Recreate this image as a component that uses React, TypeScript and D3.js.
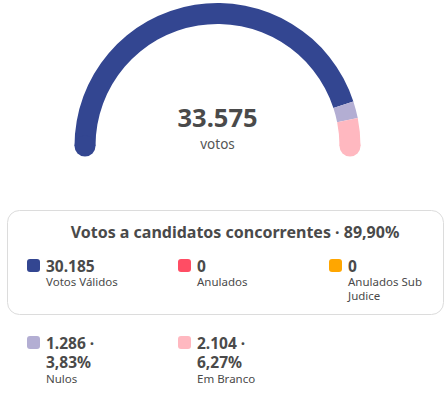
import { useEffect, useRef } from 'react'
import * as d3 from 'd3'

// gauge segments (left to right)
const gaugeNames = ['Votos Válidos', 'Nulos', 'Em Branco']
const gaugeValues = [30185, 1286, 2104]
const gaugeColors = ['#334691', '#b3aed3', '#ffb8c0']

const totalLabel = '33.575'
const totalUnit = 'votos'

const boxTitle = 'Votos a candidatos concorrentes · 89,90%'
const boxValues = ['30.185', '0', '0']
const boxLabels = [['Votos Válidos'], ['Anulados'], ['Anulados Sub', 'Judice']]
const boxColors = ['#334691', '#ff4d64', '#ffa600']

const outValues = [['1.286 ·', '3,83%'], ['2.104 ·', '6,27%']]
const outLabels = ['Nulos', 'Em Branco']
const outColors = ['#b3aed3', '#ffb8c0']

const FONT = "'Noto Sans', 'Open Sans', sans-serif"

export default function App() {
	const ref = useRef<SVGSVGElement>(null)

	useEffect(() => {
		const svg = d3.select(ref.current)
		svg.selectAll('*').remove()

		const cx = 217.5, cy = 146, rOut = 143, rIn = 122
		const angle = d3.scaleLinear()
			.domain([0, d3.sum(gaugeValues)])
			.range([-Math.PI / 2, Math.PI / 2])

		const pie = d3.pie<number>().sort(null)
			.startAngle(-Math.PI / 2).endAngle(Math.PI / 2)(gaugeValues)
		const arc = d3.arc<d3.PieArcDatum<number>>().innerRadius(rIn).outerRadius(rOut)

		const g = svg.append('g').attr('transform', `translate(${cx},${cy})`)
		g.selectAll('path.seg')
			.data(pie)
			.join('path')
			.attr('class', 'seg')
			.attr('d', arc)
			.attr('fill', (_d, i) => gaugeColors[i])

		// round caps at both ends
		const rMid = (rOut + rIn) / 2
		const capR = (rOut - rIn) / 2
		const ends = [
			{ a: angle(0), c: gaugeColors[0] },
			{ a: angle(d3.sum(gaugeValues)), c: gaugeColors[gaugeColors.length - 1] },
		]
		g.selectAll('circle.cap')
			.data(ends)
			.join('circle')
			.attr('class', 'cap')
			.attr('cx', d => Math.sin(d.a) * rMid)
			.attr('cy', d => -Math.cos(d.a) * rMid)
			.attr('r', capR)
			.attr('fill', d => d.c)

		g.append('text')
			.attr('y', -19)
			.attr('text-anchor', 'middle')
			.attr('font-family', FONT)
			.attr('font-weight', 700)
			.attr('font-size', 25.5)
			.attr('fill', '#4a4a4a')
			.text(totalLabel)
		g.append('text')
			.attr('y', 3)
			.attr('text-anchor', 'middle')
			.attr('font-family', FONT)
			.attr('font-size', 13.5)
			.attr('fill', '#555')
			.text(totalUnit)

		// box
		svg.append('rect')
			.attr('x', 7.5).attr('y', 210.5)
			.attr('width', 436).attr('height', 104)
			.attr('rx', 12)
			.attr('fill', '#fff')
			.attr('stroke', '#dcdcdc')

		svg.append('text')
			.attr('x', 235).attr('y', 238)
			.attr('text-anchor', 'middle')
			.attr('font-family', FONT)
			.attr('font-weight', 700)
			.attr('font-size', 16)
			.attr('fill', '#4a4a4a')
			.text(boxTitle)

		const colX = d3.scalePoint<number>().domain([0, 1, 2]).range([27, 329])

		const item = svg.selectAll('g.item')
			.data(boxValues.map((v, i) => ({ v, labels: boxLabels[i], c: boxColors[i], i })))
			.join('g')
			.attr('class', 'item')
			.attr('transform', d => `translate(${colX(d.i)},259)`)
		item.append('rect')
			.attr('width', 13).attr('height', 13).attr('rx', 3)
			.attr('fill', d => d.c)
		item.append('text')
			.attr('x', 19).attr('y', 13)
			.attr('font-family', FONT).attr('font-weight', 700).attr('font-size', 15.5)
			.attr('fill', '#4a4a4a')
			.text(d => d.v)
		item.each(function (d) {
			d3.select(this).selectAll('text.lab')
				.data(d.labels)
				.join('text')
				.attr('class', 'lab')
				.attr('x', 19)
				.attr('y', (_l, j) => 27 + j * 14)
				.attr('font-family', FONT).attr('font-size', 11.5)
				.attr('fill', '#4a4a4a')
				.text(l => l)
		})

		const out = svg.selectAll('g.out')
			.data(outValues.map((v, i) => ({ v, label: outLabels[i], c: outColors[i], i })))
			.join('g')
			.attr('class', 'out')
			.attr('transform', d => `translate(${colX(d.i)},336)`)
		out.append('rect')
			.attr('width', 13).attr('height', 13).attr('rx', 3)
			.attr('fill', d => d.c)
		out.each(function (d) {
			d3.select(this).selectAll('text.val')
				.data(d.v)
				.join('text')
				.attr('class', 'val')
				.attr('x', 19)
				.attr('y', (_l, j) => 13 + j * 19)
				.attr('font-family', FONT).attr('font-weight', 700).attr('font-size', 15.5)
				.attr('fill', '#4a4a4a')
				.text(l => l)
		})
		out.append('text')
			.attr('x', 19).attr('y', 47)
			.attr('font-family', FONT).attr('font-size', 11.5)
			.attr('fill', '#4a4a4a')
			.text(d => d.label)
	}, [])

	return (
		<svg ref={ref} width={447} height={393}
			style={{ position: 'absolute', left: 0, top: 0 }} />
	)
}
